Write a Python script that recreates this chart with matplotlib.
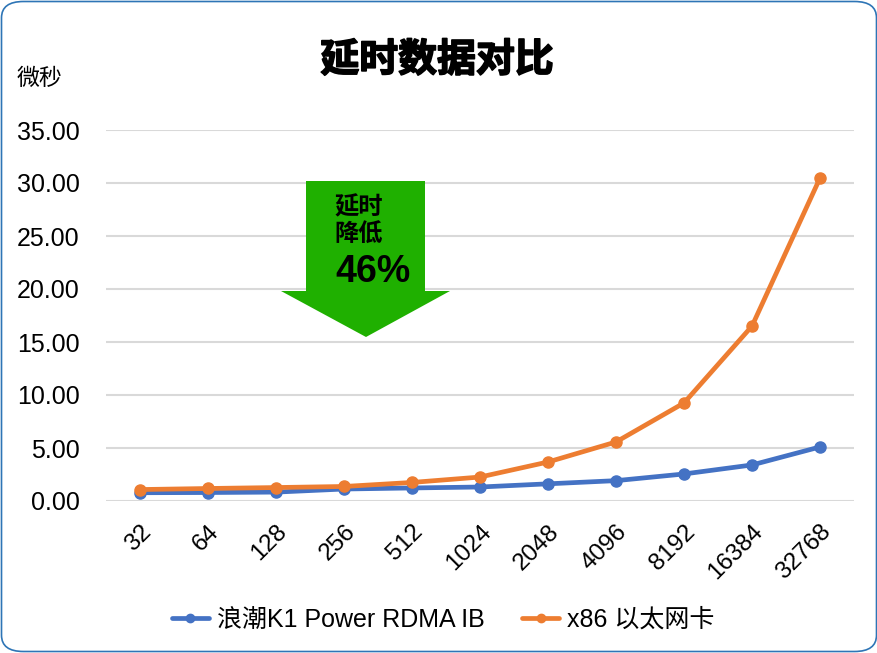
import matplotlib
matplotlib.use("Agg")
import matplotlib.pyplot as plt
import matplotlib.patheffects as pe
from matplotlib.patches import FancyBboxPatch, Polygon, Rectangle

plt.rcParams['font.family'] = ['Liberation Sans', 'Noto Sans CJK SC', 'DejaVu Sans']

categories = ["32", "64", "128", "256", "512", "1024", "2048", "4096", "8192", "16384", "32768"]
inspur = [0.78, 0.80, 0.84, 1.13, 1.23, 1.32, 1.62, 1.92, 2.55, 3.40, 5.10]
x86 = [1.08, 1.18, 1.27, 1.37, 1.75, 2.26, 3.68, 5.57, 9.25, 16.50, 30.47]
yticks = [0, 5, 10, 15, 20, 25, 30, 35]

W, H = 878, 653
fig = plt.figure(figsize=(W / 100, H / 100), dpi=100)

# rounded border
border = FancyBboxPatch((1.5 / W, 1.5 / H), (W - 3) / W, (H - 3) / H,
                        boxstyle="round,pad=0,rounding_size=0.025",
                        transform=fig.transFigure, fill=False,
                        edgecolor="#2E75B6", linewidth=1.2)
fig.patches.append(border)

ax = fig.add_axes([106 / W, 1 - 501 / H, (854 - 106) / W, (501 - 130) / H])
x = list(range(len(categories)))
ax.plot(x, inspur, color="#4472C4", linewidth=3.4, marker="o", markersize=8,
        label="浪潮K1 Power RDMA IB", zorder=3, solid_capstyle="round")
ax.plot(x, x86, color="#ED7D31", linewidth=3.4, marker="o", markersize=8,
        label="x86 以太网卡", zorder=4, solid_capstyle="round")

ax.set_xlim(-0.5, len(categories) - 0.5)
ax.set_ylim(0, 35)
ax.set_yticks(yticks)
ax.set_yticklabels([f"{v:.2f}" for v in yticks], fontsize=18)
ax.set_xticks(x)
ax.set_xticklabels(categories, rotation=45, ha="right", rotation_mode="anchor", fontsize=17.5)
ax.tick_params(axis="y", length=0, pad=19)
ax.tick_params(axis="x", length=0, pad=14)
ax.grid(axis="y", color="#D9D9D9", linewidth=1.5)
ax.set_axisbelow(True)
for s in ax.spines.values():
    s.set_visible(False)

fig.text(437 / W, 1 - 60 / H, "延时数据对比", fontsize=28, fontweight="heavy",
         ha="center", va="center", family=['Noto Sans CJK SC'],
         path_effects=[pe.withStroke(linewidth=1.2, foreground="black")])
fig.text(17 / W, 1 - 78 / H, "微秒", fontsize=16.5, fontweight="light", ha="left", va="center",
         family=['Noto Sans CJK SC'])

# green arrow
green = "#1FB000"
fig.patches.append(Rectangle((306 / W, 1 - 291 / H), (425 - 306) / W, (291 - 181) / H,
                             transform=fig.transFigure, facecolor=green, edgecolor="none", zorder=5))
fig.patches.append(Polygon([(281 / W, 1 - 291 / H), (450 / W, 1 - 291 / H), (366 / W, 1 - 337 / H)],
                           closed=True, transform=fig.transFigure, facecolor=green,
                           edgecolor="none", zorder=5))
fig.text(334 / W, 1 - 207 / H, "延时", fontsize=17.5, fontweight="bold", ha="left", va="center",
         family=['Noto Sans CJK SC'], zorder=6)
fig.text(334 / W, 1 - 235 / H, "降低", fontsize=17.5, fontweight="bold", ha="left", va="center",
         family=['Noto Sans CJK SC'], zorder=6)
fig.text(335 / W, 1 - 272 / H, "46%", fontsize=27, fontweight="bold", ha="left", va="center",
         zorder=6)

fig.legend(loc="center", bbox_to_anchor=(443 / W, 1 - 620 / H), ncol=2, frameon=False,
           fontsize=18, handlelength=1.5, columnspacing=1.5, handletextpad=0.3,
           markerscale=0.75)

fig.savefig("out.png", dpi=100)
